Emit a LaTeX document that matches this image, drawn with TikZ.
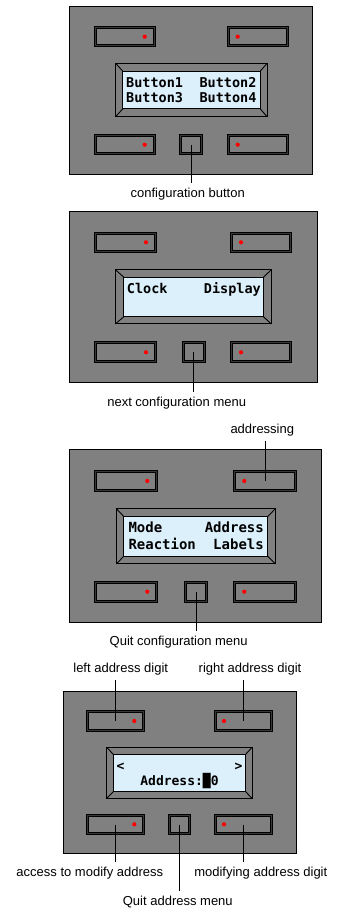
\documentclass[tikz,border=0pt]{standalone}
\usepackage{fontspec}
\setmainfont{Liberation Sans}
\newfontfamily\lcdfont{DejaVu Sans Mono}
\definecolor{panelgray}{RGB}{128,128,128}
\definecolor{bandgray}{RGB}{56,56,56}
\definecolor{lcdblue}{RGB}{220,240,252}
\tikzset{
  panel/.style={draw=black, line width=1pt, fill=panelgray, inner sep=0, outer sep=0},
  btn/.style={draw=black, line width=0.9pt, double=bandgray, double distance=1.3pt, fill=panelgray, inner sep=0, outer sep=0},
  bezel/.style={draw=black, line width=0.9pt, fill=panelgray, inner sep=0, outer sep=0},
  lcd/.style={draw=black, line width=0.9pt, fill=lcdblue, inner sep=0, outer sep=0},
  diag/.style={draw=black, line width=0.9pt},
  dot/.style={circle, fill=red, inner sep=0, minimum size=4.2pt},
  lcdtxt/.style={inner sep=0, font=\lcdfont\bfseries\fontsize{13.5}{16}\selectfont},
  lcdbig/.style={inner sep=0, font=\lcdfont\bfseries\fontsize{14}{16}\selectfont},
  lcdsm/.style={inner sep=0, font=\lcdfont\bfseries\fontsize{13}{16}\selectfont},
  lbl/.style={inner sep=0, outer sep=5pt, font=\fontsize{13}{15}\selectfont},
  conn/.style={draw=black, line width=0.8pt},
}
\newcommand\boxat[7]{\node[#1, minimum width={#5-#3-#7}, minimum height={#6-#4-#7}] (#2) at ({(#3+#5)/2},{(#4+#6)/2}) {};}
\newcommand\bezeldiag[2]{\draw[diag] (#1.north west) -- (#2.north west) (#1.north east) -- (#2.north east) (#1.south west) -- (#2.south west) (#1.south east) -- (#2.south east);}
\begin{document}
\begin{tikzpicture}[x=1pt,y=-1pt]
\useasboundingbox (0,0) rectangle (337,908);

% ---------- Panel 1 ----------
\boxat{panel}{P1}{69}{5.5}{313.3}{175}{1}
\boxat{btn}{P1tl}{94}{26}{155.7}{47}{3}
\boxat{btn}{P1tr}{227}{26}{288.7}{47}{3}
\boxat{btn}{P1bl}{94}{134}{155.7}{155.3}{3}
\boxat{btn}{P1br}{227}{134}{288.7}{155.3}{3}
\boxat{btn}{P1sq}{179.3}{134}{202.7}{155.3}{3}
\boxat{bezel}{P1do}{115}{62.7}{267.7}{117.3}{1}
\boxat{lcd}{P1di}{122.3}{70.7}{260.7}{109.3}{1}
\bezeldiag{P1do}{P1di}
\node[dot] (P1tld) at (144.7,36.7) {};
\node[dot] (P1trd) at (237.7,36.7) {};
\node[dot] (P1bld) at (144.7,144.7) {};
\node[dot] (P1brd) at (237.7,144.7) {};
\node[lcdtxt, anchor=base west] (P1t1) at (126,87) {Button1};
\node[lcdtxt, anchor=base east] (P1t2) at (256.7,87) {Button2};
\node[lcdtxt, anchor=base west] (P1t3) at (126,102) {Button3};
\node[lcdtxt, anchor=base east] (P1t4) at (256.7,102) {Button4};
\node[lbl, anchor=base] (P1l) at (187.7,197.3) {configuration button};
\draw[conn] (P1sq.center) -- (P1sq.center |- P1l.north);

% ---------- Panel 2 ----------
\boxat{panel}{P2}{69}{210.7}{317.7}{383.3}{1}
\boxat{btn}{P2tl}{94.3}{231.7}{156.7}{253.3}{3}
\boxat{btn}{P2tr}{230}{231.7}{292.3}{253.3}{3}
\boxat{btn}{P2bl}{94.3}{340.7}{156.7}{362.7}{3}
\boxat{btn}{P2br}{230}{340.7}{292.3}{362.7}{3}
\boxat{btn}{P2sq}{181.7}{340.7}{205.7}{362.7}{3}
\boxat{bezel}{P2do}{115}{269.3}{271.7}{324.3}{1}
\boxat{lcd}{P2di}{123.3}{276.7}{264}{317.3}{1}
\bezeldiag{P2do}{P2di}
\node[dot] (P2tld) at (146,242.3) {};
\node[dot] (P2trd) at (241,242.3) {};
\node[dot] (P2bld) at (146,352.3) {};
\node[dot] (P2brd) at (241,352.3) {};
\node[lcdtxt, anchor=base west] (P2t1) at (126.7,293.3) {Clock};
\node[lcdtxt, anchor=base east] (P2t2) at (261,293.3) {Display};
\node[lbl, anchor=base] (P2l) at (176.7,406.7) {next configuration menu};
\draw[conn] (P2sq.center) -- (P2sq.center |- P2l.north);

% ---------- Panel 3 ----------
\boxat{panel}{P3}{69}{449.3}{322}{623.3}{1}
\boxat{btn}{P3tl}{94.3}{470}{158.3}{491.7}{3}
\boxat{btn}{P3tr}{233.3}{470}{296.7}{491.7}{3}
\boxat{btn}{P3bl}{94.3}{580.7}{158.3}{603.3}{3}
\boxat{btn}{P3br}{233.3}{580.7}{296.7}{603.3}{3}
\boxat{btn}{P3sq}{184}{580.7}{208.3}{603.3}{3}
\boxat{bezel}{P3do}{116}{508.3}{275.7}{564.3}{1}
\boxat{lcd}{P3di}{123.3}{516}{268.3}{556.7}{1}
\bezeldiag{P3do}{P3di}
\node[dot] (P3tld) at (147.3,481) {};
\node[dot] (P3trd) at (244.3,481) {};
\node[dot] (P3bld) at (147.3,591.7) {};
\node[dot] (P3brd) at (244.3,591.7) {};
\node[lcdbig, anchor=base west] (P3t1) at (128.3,532.7) {Mode};
\node[lcdbig, anchor=base east] (P3t2) at (264,532.7) {Address};
\node[lcdbig, anchor=base west] (P3t3) at (128.3,549.3) {Reaction};
\node[lcdbig, anchor=base east] (P3t4) at (264,549.3) {Labels};
\node[lbl, anchor=base] (P3la) at (262.3,433.3) {addressing};
\draw[conn] (P3tr.center) -- (P3tr.center |- P3la.south);
\node[lbl, anchor=base] (P3lq) at (178.7,645.5) {Quit configuration menu};
\draw[conn] (P3sq.center) -- (P3sq.center |- P3lq.north);

% ---------- Panel 4 ----------
\boxat{panel}{P4}{62.7}{691}{296.7}{854.3}{1}
\boxat{btn}{P4tl}{85.7}{710}{145}{731.7}{3}
\boxat{btn}{P4tr}{214}{710}{273.3}{731.7}{3}
\boxat{btn}{P4bl}{85.7}{814}{145}{835}{3}
\boxat{btn}{P4br}{214}{814}{273.3}{835}{3}
\boxat{btn}{P4sq}{168.3}{814}{190.7}{835}{3}
\boxat{bezel}{P4do}{106}{746.7}{252.7}{799}{1}
\boxat{lcd}{P4di}{113.3}{754.3}{245.7}{791.7}{1}
\bezeldiag{P4do}{P4di}
\node[dot] (P4tld) at (134.3,721) {};
\node[dot] (P4trd) at (224,721) {};
\node[dot] (P4bld) at (134.3,824.3) {};
\node[dot] (P4brd) at (224,824.3) {};
\node[lcdsm, anchor=base west] (P4t1) at (116.3,770) {<};
\node[lcdsm, anchor=base east] (P4t2) at (242.7,770) {>};
\node[lcdsm, anchor=base] (P4t3) at (179.5,785.7) {Address:█0};
\node[lbl, anchor=base] (P4l1) at (120.7,672.7) {left address digit};
\node[lbl, anchor=base] (P4l2) at (250,672.7) {right address digit};
\node[lbl, anchor=base] (P4l3) at (89.8,876.7) {access to modify address};
\node[lbl, anchor=base] (P4l4) at (260.8,876.7) {modifying address digit};
\node[lbl, anchor=base] (P4l5) at (177.8,905.7) {Quit address menu};
\draw[conn] (P4tl.center) -- (P4tl.center |- P4l1.south);
\draw[conn] (P4tr.center) -- (P4tr.center |- P4l2.south);
\draw[conn] (P4bl.center) -- (P4bl.center |- P4l3.north);
\draw[conn] (P4br.center) -- (P4br.center |- P4l4.north);
\draw[conn] (P4sq.center) -- (P4sq.center |- P4l5.north);
\end{tikzpicture}
\end{document}
